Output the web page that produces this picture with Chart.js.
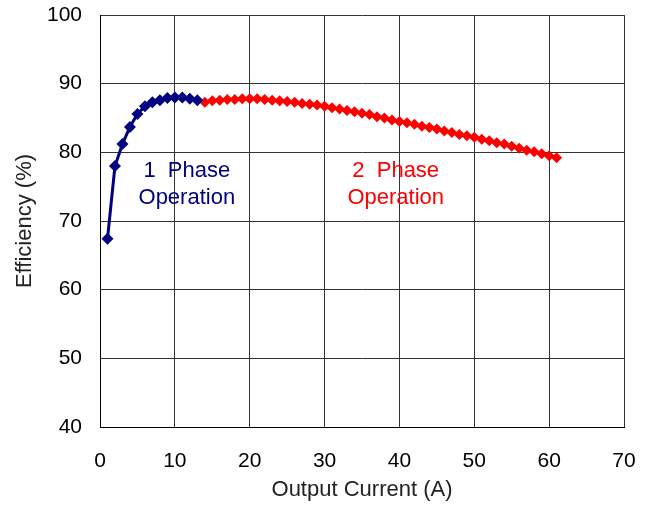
<!DOCTYPE html>
<html>
<head>
<meta charset="utf-8">
<script src="https://cdn.jsdelivr.net/npm/chart.js@4"></script>
<style>
  html, body { margin: 0; padding: 0; background: #fff; }
  #wrap { width: 651px; height: 507px; }
</style>
</head>
<body>
<div id="wrap"><canvas id="chart" width="651" height="507"></canvas></div>
<script>
// 1相動作（青）
const onePhaseCurrent = [1, 2, 3, 4, 5, 6, 7, 8, 9, 10, 11, 12, 13];
const onePhaseEff = [67.4, 78.0, 81.2, 83.7, 85.6, 86.7, 87.3, 87.6, 87.9, 88.0, 88.0, 87.8, 87.6];

// 2相動作（赤）
const twoPhaseCurrent = [14, 15, 16, 17, 18, 19, 20, 21, 22, 23, 24, 25, 26, 27, 28, 29, 30,
  31, 32, 33, 34, 35, 36, 37, 38, 39, 40, 41, 42, 43, 44, 45, 46, 47, 48, 49, 50,
  51, 52, 53, 54, 55, 56, 57, 58, 59, 60, 61];
const twoPhaseEff = [87.3, 87.5, 87.6, 87.7, 87.7, 87.8, 87.8, 87.8, 87.7, 87.6, 87.5, 87.4, 87.3, 87.1, 87.0, 86.9, 86.7,
  86.5, 86.3, 86.1, 85.9, 85.7, 85.5, 85.2, 85.0, 84.7, 84.5, 84.3, 84.1, 83.8, 83.6, 83.4, 83.1, 82.9, 82.6, 82.4, 82.2,
  81.9, 81.7, 81.4, 81.2, 80.9, 80.6, 80.3, 80.1, 79.8, 79.5, 79.2];

const xTicks = [0, 10, 20, 30, 40, 50, 60, 70];
const yTicks = [40, 50, 60, 70, 80, 90, 100];

const NAVY = '#000080';
const RED = '#ff0000';
const FONT = '"Liberation Sans", Arial, sans-serif';

// グラフ内ラベル
const labels = [
  { x: 11.6, lines: ['1  Phase', 'Operation'], color: NAVY },
  { x: 39.5, lines: ['2  Phase', 'Operation'], color: RED }
];

const textPlugin = {
  id: 'phaseText',
  afterDatasetsDraw(chart) {
    const { ctx, scales } = chart;
    ctx.save();
    ctx.font = '22px ' + FONT;
    ctx.textAlign = 'center';
    ctx.textBaseline = 'middle';
    labels.forEach(l => {
      ctx.fillStyle = l.color;
      const px = scales.x.getPixelForValue(l.x);
      ctx.fillText(l.lines[0], px, scales.y.getPixelForValue(77.3));
      ctx.fillText(l.lines[1], px, scales.y.getPixelForValue(73.3));
    });
    ctx.restore();
  }
};

const toXY = (xs, ys) => xs.map((x, i) => ({ x, y: ys[i] }));

new Chart(document.getElementById('chart').getContext('2d'), {
  type: 'scatter',
  data: {
    datasets: [
      {
        data: toXY(onePhaseCurrent, onePhaseEff),
        showLine: true,
        borderColor: NAVY,
        backgroundColor: NAVY,
        borderWidth: 3,
        pointStyle: 'rectRot',
        pointRadius: 6,
        pointBorderWidth: 0
      },
      {
        data: toXY(twoPhaseCurrent, twoPhaseEff),
        showLine: true,
        borderColor: RED,
        backgroundColor: RED,
        borderWidth: 3,
        pointStyle: 'rectRot',
        pointRadius: 5.5,
        pointBorderWidth: 0
      }
    ]
  },
  options: {
    responsive: false,
    animation: false,
    layout: { padding: { top: 15, right: 27, left: 0, bottom: 0 } },
    plugins: { legend: { display: false }, tooltip: { enabled: false } },
    scales: {
      x: {
        type: 'linear', min: 0, max: 70,
        afterBuildTicks: s => { s.ticks = xTicks.map(v => ({ value: v })); },
        afterFit: s => { s.height = 80; s.paddingLeft = 0; s.paddingRight = 0; },
        grid: { color: '#333', lineWidth: 1, drawTicks: false },
        border: { color: '#000', width: 1 },
        ticks: { color: '#000', padding: 22, font: { family: FONT, size: 21 } },
        title: { display: true, text: 'Output Current (A)', color: '#222', padding: { top: 2 }, font: { family: FONT, size: 22 } }
      },
      y: {
        type: 'linear', min: 40, max: 100,
        afterBuildTicks: s => { s.ticks = yTicks.map(v => ({ value: v })); },
        afterFit: s => { s.width = 100; s.paddingTop = 0; s.paddingBottom = 0; },
        grid: { color: '#333', lineWidth: 1, drawTicks: false },
        border: { color: '#000', width: 1 },
        ticks: { color: '#000', padding: 18, font: { family: FONT, size: 21 } },
        title: { display: true, text: 'Efficiency (%)', color: '#222', padding: { top: 12, bottom: 2 }, font: { family: FONT, size: 22 } }
      }
    }
  },
  plugins: [textPlugin]
});
</script>
</body>
</html>
